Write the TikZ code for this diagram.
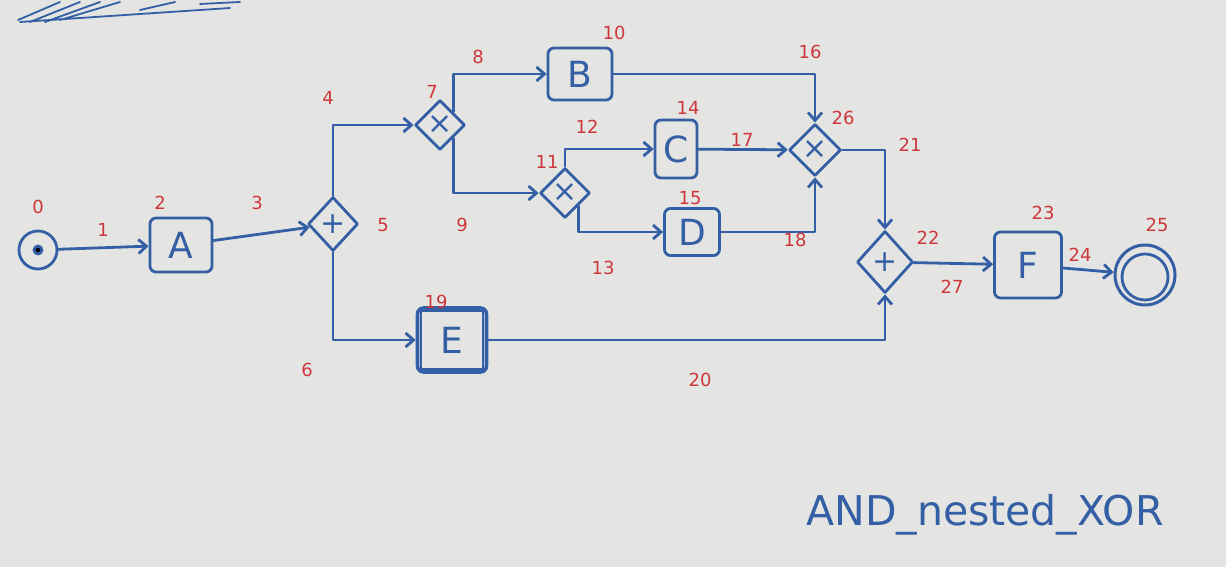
\documentclass[tikz,border=0pt]{standalone}
\usepackage{fontspec}
\setmainfont{DejaVu Sans}
\usetikzlibrary{shapes.geometric,arrows.meta}
\definecolor{ink}{RGB}{52,95,165}
\definecolor{redink}{RGB}{205,55,60}
\definecolor{paper}{RGB}{228,229,227}
\tikzset{
  ink/.style={draw=ink, line width=2.8pt, line cap=round, line join=round},
  flow/.style={ink, -{Straight Barb[length=8pt,width=14pt]}},
  task/.style={ink, rounded corners=6pt, inner sep=0pt, text=ink, font=\fontsize{36}{36}\selectfont},
  gate/.style={ink, diamond, inner sep=0pt, text=ink, font=\fontsize{30}{30}\selectfont},
  lab/.style={text=redink, font=\fontsize{18}{18}\selectfont, inner sep=0pt},
}
\begin{document}
\begin{tikzpicture}[x=1pt,y=-1pt]
\fill[paper] (0,0) rectangle (1226,567);
\useasboundingbox (0,0) rectangle (1226,567);
% scribble at top left
\draw[ink, line width=1.8pt] (18,20) -- (60,2) (30,22) -- (80,2) (45,22) -- (100,2) (60,20) -- (120,2) (20,22) -- (230,8) (140,10) -- (175,2) (200,4) -- (240,2);
% events
\node[ink, circle, minimum size=38pt] (start) at (38,250) {};
\fill[ink] (start) circle (4pt);
\node[ink, circle, minimum size=60pt, line width=3pt] (end) at (1145,275) {};
\draw[ink] (1145,277) circle (23pt);
% tasks
\node[task, minimum width=62pt, minimum height=54pt] (A) at (181,245) {A};
\node[task, minimum width=64pt, minimum height=52pt] (B) at (580,74) {B};
\node[task, minimum width=42pt, minimum height=58pt] (C) at (676,149) {C};
\node[task, minimum width=55pt, minimum height=47pt] (D) at (692,232) {D};
\node[task, minimum width=69pt, minimum height=64pt, line width=3.6pt] (E) at (452,340) {E};
\draw[ink, line width=2pt] (E.north west) ++(5,5) rectangle ([shift={(-5,-5)}]E.south east);
\node[task, minimum width=67pt, minimum height=66pt] (F) at (1028,265) {F};
% gateways
\node[gate, minimum width=50pt, minimum height=54pt] (g5) at (333,224) {+};
\node[gate, minimum width=50pt, minimum height=50pt] (g7) at (440,125) {×};
\node[gate, minimum width=50pt, minimum height=50pt] (g11) at (565,193) {×};
\node[gate, minimum width=52pt, minimum height=52pt] (g26) at (815,150) {×};
\node[gate, minimum width=56pt, minimum height=62pt] (g22) at (885,262) {+};
% flows
\draw[flow] (start) -- (A);
\draw[flow] (A) -- (g5);
\draw[flow] (g5.north) |- (g7.west);
\draw[flow] (g5.south) |- (E.west);
\draw[flow] (g7.north east) |- (B.west);
\draw[flow] (g7.south east) |- (g11.west);
\draw[flow] (g11.north) |- (C.west);
\draw[flow] (g11.south east) |- (D.west);
\draw[flow] (B.east) -| (g26.north);
\draw[flow] (C) -- (g26);
\draw[flow] (D.east) -| (g26.south);
\draw[flow] (g26.east) -| (g22.north);
\draw[flow] (E.east) -| (g22.south);
\draw[flow] (g22) -- (F);
\draw[flow] (F) -- (end);
% labels
\node[lab] (l0) at (38,207) {0};
\node[lab] (l1) at (103,230) {1};
\node[lab] (l2) at (160,203) {2};
\node[lab] (l3) at (257,203) {3};
\node[lab] (l4) at (328,98) {4};
\node[lab] (l5) at (383,225) {5};
\node[lab] (l6) at (307,370) {6};
\node[lab] (l7) at (432,92) {7};
\node[lab] (l8) at (478,57) {8};
\node[lab] (l9) at (462,225) {9};
\node[lab] (l10) at (614,33) {10};
\node[lab] (l11) at (547,162) {11};
\node[lab] (l12) at (587,127) {12};
\node[lab] (l13) at (603,268) {13};
\node[lab] (l14) at (688,108) {14};
\node[lab] (l15) at (690,198) {15};
\node[lab] (l16) at (810,52) {16};
\node[lab] (l17) at (742,140) {17};
\node[lab] (l18) at (795,240) {18};
\node[lab] (l19) at (436,302) {19};
\node[lab] (l20) at (700,380) {20};
\node[lab] (l21) at (910,145) {21};
\node[lab] (l22) at (928,238) {22};
\node[lab] (l23) at (1043,213) {23};
\node[lab] (l24) at (1080,255) {24};
\node[lab] (l25) at (1157,225) {25};
\node[lab] (l26) at (843,118) {26};
\node[lab] (l27) at (952,287) {27};
\node[text=ink, font=\fontsize{41}{41}\selectfont, inner sep=0pt] (title) at (985,515) {AND\_nested\_XOR};
\end{tikzpicture}
\end{document}
